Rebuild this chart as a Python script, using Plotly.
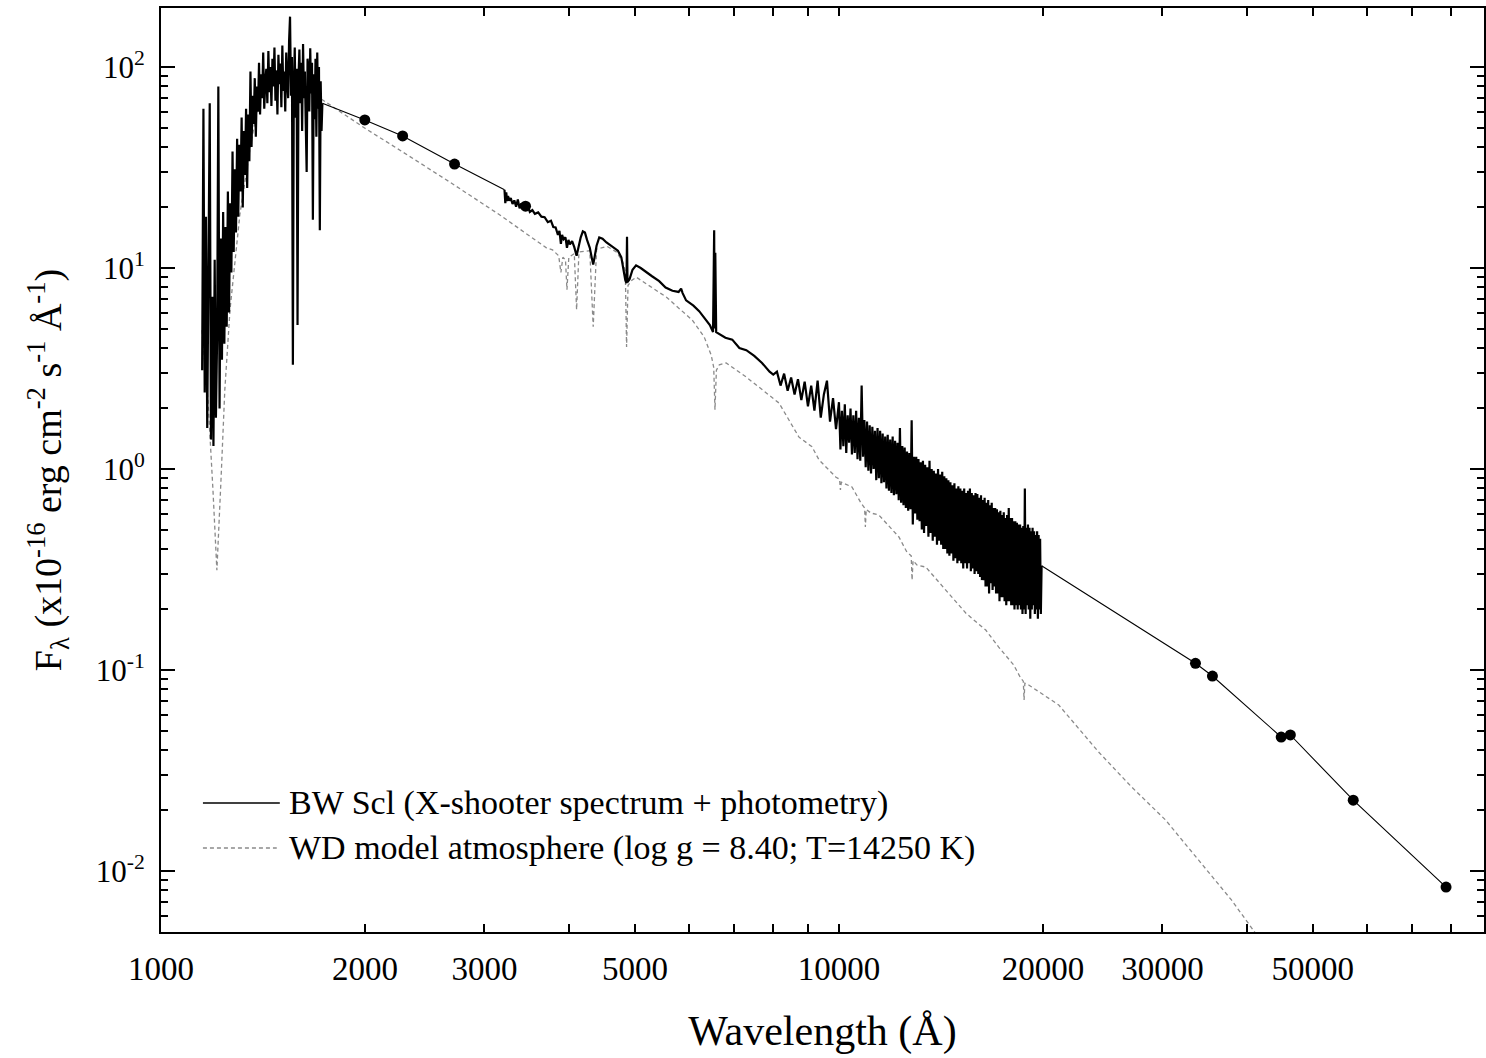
import plotly.graph_objects as go

# ---------------- data ----------------
# UV spectrum (Angstrom, 1e-16 erg/cm2/s/A)
uv_wl = [1150, 1155, 1160, 1165, 1170, 1175, 1180, 1185, 1190, 1195,
         1200, 1205, 1210, 1215, 1220, 1225, 1230, 1235, 1240, 1245,
         1250, 1255, 1260, 1265, 1270, 1275, 1280, 1285, 1290, 1295,
         1300, 1305, 1310, 1315, 1320, 1325, 1330, 1335, 1340, 1345,
         1350, 1355, 1360, 1365, 1370, 1375, 1380, 1385, 1390, 1395,
         1400, 1405, 1410, 1415, 1420, 1425, 1430, 1435, 1440, 1445,
         1450, 1455, 1460, 1465, 1470, 1475, 1480, 1485, 1490, 1495,
         1500, 1505, 1510, 1515, 1520, 1525, 1530, 1535, 1540, 1545,
         1550, 1555, 1560, 1565, 1570, 1575, 1580, 1585, 1590, 1595,
         1600, 1605, 1610, 1615, 1620, 1625, 1630, 1635, 1640, 1645,
         1650, 1655, 1660, 1665, 1670, 1675, 1680, 1685, 1690, 1695,
         1700, 1705, 1710, 1715, 1720, 1725, 1730]
uv_flux = [3.1, 62, 2.4, 18, 1.6, 9.5, 66, 1.4, 7.2, 1.3,
           11, 1.8, 4.5, 80, 2.0, 14, 3.5, 19, 4.2, 16,
           5.1, 24, 6.0, 21, 9.5, 38, 12, 31, 15, 44,
           18, 41, 24, 56, 20, 48, 29, 62, 25, 58,
           34, 95, 40, 72, 52, 88, 45, 80, 60, 105,
           58, 92, 70, 118, 62, 85, 98, 66, 120, 75,
           100, 64, 110, 80, 125, 68, 96, 58, 115, 82,
           104, 63, 128, 76, 95, 60, 118, 85, 70, 135,
           178, 72, 112, 3.3, 80, 125, 56, 98, 5.2, 88,
           122, 66, 105, 48, 130, 70, 95, 52, 30, 110,
           98, 60, 124, 74, 105, 17.4, 92, 55, 110, 45,
           118, 62, 100, 15.4, 85, 48, 66]

# X-shooter optical spectrum
opt_wl = [3211, 3220, 3230, 3240, 3250, 3265, 3280, 3300, 3320, 3340,
          3360, 3380, 3400, 3420, 3440, 3460, 3480, 3500, 3530, 3560,
          3600, 3640, 3680, 3720, 3760, 3790, 3820, 3850, 3870, 3889,
          3905, 3925, 3950, 3970, 3990, 4010, 4040, 4070, 4102, 4130,
          4160, 4190, 4220, 4250, 4290, 4320, 4340, 4360, 4390, 4430,
          4480, 4540, 4600, 4660, 4720, 4775, 4810, 4840, 4860, 4868,
          4876, 4910, 4960, 5020, 5100, 5200, 5300, 5430, 5550, 5680,
          5800, 5850, 5880, 5950, 6100, 6220, 6350, 6450, 6520, 6545,
          6555, 6570, 6590, 6660, 6800, 6960, 7130, 7300, 7500, 7700,
          7900, 8000]
opt_flux = [24.5, 21.0, 23.8, 21.5, 22.8, 21.6, 22.3, 20.8, 21.7, 20.2,
            21.9, 19.8, 21.0, 19.5, 20.6, 19.4, 20.1, 19.0, 19.4, 18.6,
            18.9, 18.0, 17.9, 16.9, 17.2, 16.0, 15.9, 14.6, 15.3, 13.2,
            14.6, 13.9, 14.2, 12.6, 13.8, 13.1, 13.6, 12.7, 11.5, 12.9,
            14.2, 15.2, 15.0, 13.8, 12.6, 11.2, 10.4, 11.3, 12.9, 14.2,
            14.0, 13.4, 13.0, 12.6, 12.2, 11.3, 9.6, 8.7, 8.4, 14.3,
            8.5, 8.8, 9.8, 10.3, 10.0, 9.5, 9.1, 8.6, 8.0, 7.7,
            7.6, 7.9, 7.5, 6.9, 6.5, 6.1, 5.6, 5.2, 4.8, 15.4,
            5.0, 11.9, 4.8, 4.7, 4.5, 4.4, 4.0, 3.9, 3.65, 3.37,
            3.05, 2.95]

# X-shooter near-infrared spectrum
nir_wl = [8100, 8200, 8300, 8400, 8500, 8600, 8700, 8800, 8900, 9000,
          9100, 9200, 9300, 9400, 9500, 9600, 9700, 9800, 9900,
          10000, 10050, 10100, 10150, 10200, 10250, 10300, 10350, 10400, 10450,
          10500, 10550, 10600, 10650, 10700, 10750, 10800, 10850, 10900, 10950,
          11000, 11050, 11100, 11150, 11200, 11250, 11300, 11350, 11400, 11450,
          11500, 11550, 11600, 11650, 11700, 11750, 11800, 11850, 11900, 11950,
          12000, 12050, 12100, 12150, 12200, 12250, 12300, 12350, 12400, 12450,
          12500, 12550, 12600, 12650, 12700, 12750, 12800, 12850, 12900, 12950,
          13000, 13050, 13100, 13150, 13200, 13250, 13300, 13350, 13400, 13450,
          13500, 13550, 13600, 13650, 13700, 13750, 13800, 13850, 13900, 13950,
          14000, 14050, 14100, 14150, 14200, 14250, 14300, 14350, 14400, 14450,
          14500, 14550, 14600, 14650, 14700, 14750, 14800, 14850, 14900, 14950,
          15000, 15050, 15100, 15150, 15200, 15250, 15300, 15350, 15400, 15450,
          15500, 15550, 15600, 15650, 15700, 15750, 15800, 15850, 15900, 15950,
          16000, 16050, 16100, 16150, 16200, 16250, 16300, 16350, 16400, 16450,
          16500, 16550, 16600, 16650, 16700, 16750, 16800, 16850, 16900, 16950,
          17000, 17050, 17100, 17150, 17200, 17250, 17300, 17350, 17400, 17450,
          17500, 17550, 17600, 17650, 17700, 17750, 17800, 17850, 17900, 17950,
          18000, 18050, 18100, 18150, 18200, 18250, 18300, 18350, 18400, 18450,
          18500, 18550, 18600, 18650, 18700, 18750, 18800, 18850, 18900, 18950,
          19000, 19050, 19100, 19150, 19200, 19250, 19300, 19350, 19400, 19450,
          19500, 19550, 19600, 19650, 19700, 19750, 19800, 19850, 19900]
nir_flux = [3.05, 2.60, 2.98, 2.45, 2.85, 2.35, 2.80, 2.20, 2.72, 2.05,
            2.60, 1.95, 2.75, 1.80, 2.35, 2.75, 1.72, 2.25, 1.58,
            2.15, 1.25, 1.95, 1.30, 2.10, 1.20, 1.85, 1.35, 2.00, 1.18,
            1.85, 1.20, 1.95, 1.12, 1.80, 1.10, 2.60, 1.15, 1.75, 1.02,
            1.72, 0.98, 1.65, 0.95, 1.62, 1.00, 1.55, 0.88, 1.60, 0.90,
            1.55, 0.85, 1.50, 0.86, 1.45, 0.80, 1.48, 0.78, 1.40, 0.76,
            1.45, 0.74, 1.38, 0.75, 1.35, 0.70, 1.60, 0.68, 1.30, 0.66,
            1.28, 0.64, 1.22, 0.62, 1.20, 0.63, 1.75, 0.53, 1.15, 0.60,
            1.15, 0.56, 1.12, 0.55, 1.08, 0.50, 1.10, 0.48, 1.05, 0.52,
            1.02, 0.46, 1.10, 0.48, 1.00, 0.44, 0.98, 0.46, 0.95, 0.42,
            1.00, 0.44, 0.94, 0.42, 0.97, 0.40, 0.92, 0.40, 0.90, 0.38,
            0.88, 0.37, 0.86, 0.38, 0.83, 0.35, 0.85, 0.36, 0.80, 0.34,
            0.82, 0.35, 0.80, 0.34, 0.78, 0.32, 0.80, 0.34, 0.76, 0.32,
            0.78, 0.34, 0.80, 0.31, 0.76, 0.32, 0.74, 0.30, 0.76, 0.31,
            0.75, 0.30, 0.72, 0.29, 0.74, 0.28, 0.70, 0.28, 0.72, 0.26,
            0.68, 0.26, 0.70, 0.24, 0.66, 0.27, 0.68, 0.25, 0.64, 0.26,
            0.64, 0.24, 0.63, 0.24, 0.61, 0.22, 0.62, 0.23, 0.59, 0.23,
            0.61, 0.22, 0.57, 0.21, 0.59, 0.22, 0.64, 0.22, 0.57, 0.21,
            0.57, 0.21, 0.55, 0.20, 0.55, 0.21, 0.54, 0.20, 0.53, 0.21,
            0.53, 0.20, 0.51, 0.19, 0.52, 0.20, 0.80, 0.19, 0.51, 0.21,
            0.53, 0.20, 0.51, 0.18, 0.49, 0.20, 0.51, 0.21, 0.49, 0.19,
            0.47, 0.20, 0.49, 0.18, 0.47, 0.20, 0.45, 0.19, 0.33]

# Photometry
phot_wl = [1998, 2272, 2710, 3449, 33560, 35550, 44900, 46320, 57350, 78600]
phot_flux = [54.5, 45.4, 32.9, 20.3, 0.108, 0.0933, 0.0464, 0.0475, 0.0225, 0.00832]

# WD model atmosphere
model_wl = [1149, 1173, 1193, 1209, 1226, 1242, 1264, 1307, 1352, 1390,
            1423, 1472, 1549, 1630, 1732, 1997, 2272, 2665, 3157, 3702,
            3780, 3860, 3889, 3915, 3950, 3970, 3995, 4070, 4102, 4135,
            4290, 4340, 4390, 4550, 4700, 4800, 4840, 4861, 4885, 4950,
            5024, 5562, 6074, 6327, 6479, 6535, 6563, 6595, 6660, 6817,
            7295, 8157, 8730, 9125, 9345, 9900, 10020, 10049, 10080, 10450,
            10775, 10910, 10938, 10970, 11145, 11450, 12258, 12593, 12780, 12818,
            12860, 13029, 13430, 14377, 15382, 16463, 17203, 18098, 18535, 18700,
            18751, 18800, 19049, 21090, 24150, 27010, 30310, 33900, 37920, 41830]
model_flux = [4.91, 2.20, 0.786, 0.314, 0.882, 2.47, 6.18, 18.4, 38.6, 64.7,
              91.2, 96.6, 86.1, 76.9, 68.5, 49.7, 37.8, 26.8, 18.4, 12.6,
              12.3, 11.5, 9.5, 11.3, 11.0, 7.8, 11.3, 11.8, 6.2, 12.0,
              12.2, 5.1, 12.4, 12.8, 12.0, 10.7, 9.6, 4.05, 8.2, 8.7,
              9.0, 7.17, 5.51, 4.54, 3.69, 3.2, 1.97, 3.1, 3.3, 3.37,
              2.87, 2.13, 1.44, 1.29, 1.11, 0.91, 0.89, 0.786, 0.86, 0.814,
              0.678, 0.64, 0.514, 0.63, 0.604, 0.590, 0.459, 0.386, 0.37, 0.280,
              0.35, 0.333, 0.325, 0.250, 0.192, 0.158, 0.130, 0.106, 0.0912, 0.088,
              0.0709, 0.086, 0.0842, 0.0670, 0.0391, 0.0262, 0.01795, 0.01135, 0.00718, 0.00454]

x_tick_vals = [1000, 2000, 3000, 4000, 5000, 6000, 7000, 8000, 9000,
               10000, 20000, 30000, 40000, 50000, 60000, 70000, 80000]
x_tick_text = ["1000", "2000", "3000", "", "5000", "", "", "", "",
               "10000", "20000", "30000", "", "50000", "", "", ""]
y_tick_vals = [0.01, 0.1, 1, 10, 100]
y_tick_text = ["10<sup>-2</sup>", "10<sup>-1</sup>", "10<sup>0</sup>",
               "10<sup>1</sup>", "10<sup>2</sup>"]
y_minor_vals = [m * d for d in [0.001, 0.01, 0.1, 1, 10, 100] for m in range(2, 10)]

legend_labels = ["BW Scl (X-shooter spectrum + photometry)",
                 "WD model atmosphere (log g = 8.40; T=14250 K)"]

# ---------------- figure ----------------
spec_wl = opt_wl + nir_wl
spec_flux = opt_flux + nir_flux
# thin connecting line through the photometry (joins the spectral pieces)
link1_wl = uv_wl[-1:] + phot_wl[:3] + opt_wl[:1]
link1_flux = uv_flux[-1:] + phot_flux[:3] + opt_flux[:1]
link2_wl = nir_wl[-1:] + phot_wl[4:]
link2_flux = nir_flux[-1:] + phot_flux[4:]

fig = go.Figure()
fig.add_trace(go.Scatter(x=model_wl, y=model_flux, mode="lines",
                         line=dict(color="#8a8a8a", width=1.3, dash="4px,3px"),
                         name=legend_labels[1]))
for wl, fl, w in [(uv_wl, uv_flux, 2.2), (spec_wl, spec_flux, 2.2),
                  (link1_wl, link1_flux, 1.1), (link2_wl, link2_flux, 1.1)]:
    fig.add_trace(go.Scatter(x=wl, y=fl, mode="lines",
                             line=dict(color="black", width=w),
                             showlegend=False))
fig.add_trace(go.Scatter(x=phot_wl, y=phot_flux, mode="markers",
                         marker=dict(color="black", size=11, symbol="circle"),
                         showlegend=False))

FONT = "Liberation Serif"
axis_common = dict(type="log", showgrid=False, zeroline=False, showline=True,
                   linecolor="black", linewidth=2, mirror="ticks",
                   ticks="inside", tickcolor="black", tickwidth=2)

fig.update_layout(
    width=1486, height=1058,
    margin=dict(l=161, r=0, t=8, b=126),
    plot_bgcolor="white", paper_bgcolor="white",
    showlegend=False,
    font=dict(family=FONT, color="black"),
    xaxis=dict(**axis_common, range=[3, 4.9514], tickmode="array",
               tickvals=x_tick_vals, ticktext=x_tick_text, ticklen=8,
               tickfont=dict(size=33, family=FONT),
               ticklabelstandoff=6,
               title=dict(text="Wavelength (Å)", font=dict(size=42, family=FONT),
                          standoff=30)),
    yaxis=dict(**axis_common, range=[-2.3035, 2.2935], tickmode="array",
               tickvals=y_tick_vals, ticktext=y_tick_text, ticklen=14,
               tickfont=dict(size=31, family=FONT),
               ticklabelstandoff=8,
               minor=dict(tickmode="array", tickvals=y_minor_vals, ticks="inside",
                          ticklen=7, tickwidth=2, tickcolor="black", showgrid=False),
               title=dict(text="F<sub>λ</sub> (x10<sup>-16</sup> erg cm<sup>-2</sup> s<sup>-1</sup> Å<sup>-1</sup>)",
                          font=dict(size=38, family=FONT), standoff=22)),
)

# manual legend (long line samples like the reference)
leg_y = [0.1396, 0.0909]
fig.add_shape(type="line", xref="paper", yref="paper", x0=0.0317, x1=0.0898,
              y0=leg_y[0], y1=leg_y[0], line=dict(color="black", width=1.3))
fig.add_shape(type="line", xref="paper", yref="paper", x0=0.0317, x1=0.0875,
              y0=leg_y[1], y1=leg_y[1], line=dict(color="#8a8a8a", width=1.3, dash="4px,3px"))
for yy, txt in zip(leg_y, legend_labels):
    fig.add_annotation(xref="paper", yref="paper", x=0.0955, y=yy, text=txt,
                       showarrow=False, xanchor="left", yanchor="middle",
                       font=dict(size=34, family=FONT, color="black"))

fig.write_html("out.html")
